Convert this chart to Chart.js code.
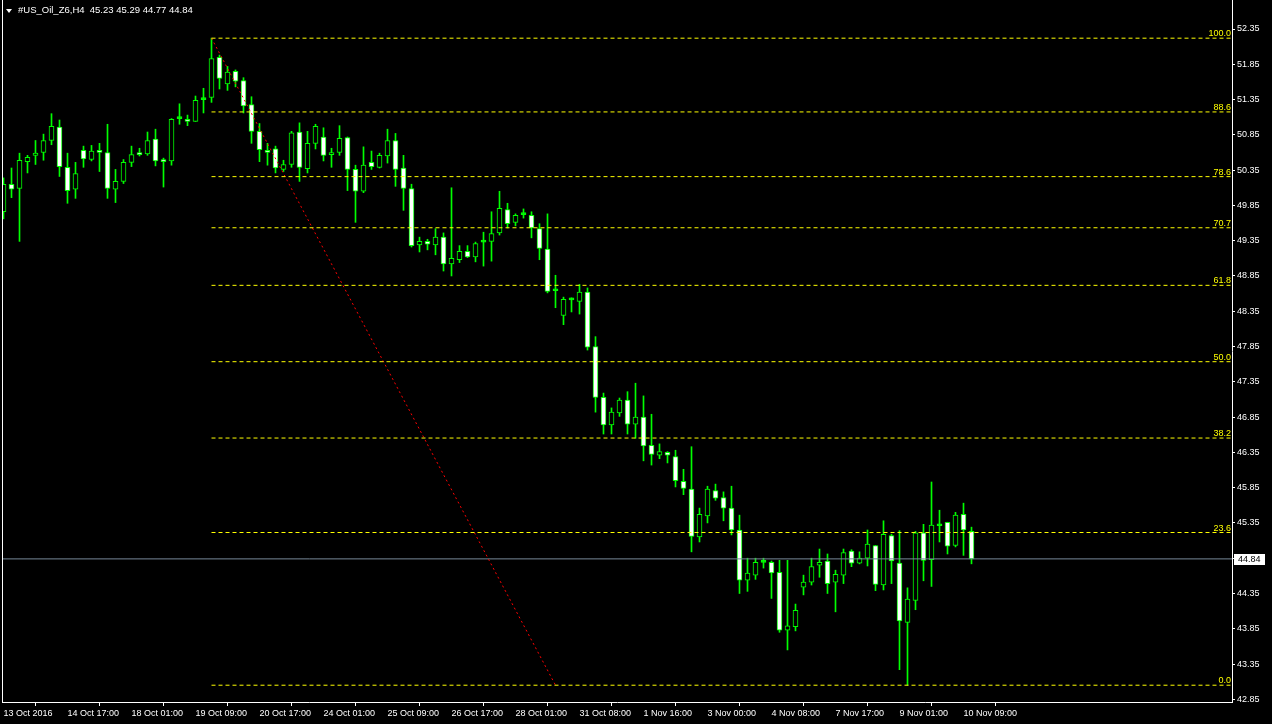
<!DOCTYPE html>
<html><head><meta charset="utf-8">
<script src="https://cdn.jsdelivr.net/npm/chart.js@4.4.1/dist/chart.umd.min.js"></script>
<style>
html,body{margin:0;padding:0;background:#000;}
#wrap{position:relative;width:1272px;height:724px;overflow:hidden;}
#hdr{position:absolute;left:18px;top:4px;color:#fff;font:9.5px "Liberation Sans",Arial,sans-serif;white-space:pre;line-height:11px;}
#tri{position:absolute;left:6px;top:9px;width:0;height:0;border-left:3px solid transparent;border-right:3px solid transparent;border-top:4px solid #fff;}
</style></head><body>
<div id="wrap"><canvas id="c" width="1272" height="724"></canvas><div id="tri"></div><div id="hdr">#US_Oil_Z6,H4  45.23 45.29 44.77 44.84</div></div>
<script>
// H4 bars, index 0 = 13 Oct 2016 09:00
const openVals = [49.76,50.15,50.09,50.47,50.56,50.60,50.77,50.96,50.39,50.08,50.63,50.50,50.63,50.60,50.08,50.19,50.46,50.59,50.58,50.79,50.49,50.48,51.08,51.07,51.04,51.36,
51.38,51.95,51.57,51.75,51.62,51.28,50.90,50.63,50.65,50.36,50.43,50.89,50.37,50.73,50.82,50.57,50.60,50.81,50.36,50.05,50.46,50.39,50.55,50.77,50.38,
50.09,49.29,49.34,49.29,49.40,49.02,49.08,49.20,49.12,49.33,49.34,49.46,49.79,49.61,49.72,49.71,49.52,49.23,48.64,48.29,48.51,48.49,48.62,47.85,47.13,
46.74,46.91,47.09,46.75,46.85,46.45,46.31,46.35,46.29,45.94,45.83,45.15,45.45,45.81,45.71,45.56,45.25,44.54,44.61,44.79,44.79,44.65,43.83,43.88,44.44,
44.51,44.75,44.81,44.51,44.61,44.95,44.78,44.85,45.03,44.47,45.17,44.78,43.94,44.25,45.21,44.83,45.31,45.36,45.03,45.47,45.23];
const highVals = [50.24,50.38,50.59,50.56,50.77,50.86,51.15,51.06,50.59,50.46,50.69,50.70,50.73,51.00,50.36,50.50,50.69,50.66,50.89,50.93,50.52,51.08,51.29,51.13,51.40,51.51,
52.22,51.98,51.82,51.77,51.66,51.39,51.01,50.73,50.69,50.49,50.90,51.02,50.90,51.00,50.95,50.66,50.98,50.82,50.42,50.68,50.62,50.59,50.93,50.87,50.56,
50.15,49.40,49.37,49.52,49.46,50.10,49.28,49.28,49.33,49.47,49.76,50.05,49.88,49.73,49.80,49.76,49.59,49.73,48.86,48.55,48.54,48.73,48.68,47.99,47.19,
46.98,47.12,47.21,47.33,47.15,46.89,46.47,46.36,46.38,46.11,46.43,45.56,45.87,45.90,45.79,45.87,45.46,44.85,44.85,44.85,44.81,44.82,44.82,44.20,44.61,
44.85,44.98,44.91,44.68,44.98,44.97,44.94,45.25,45.03,45.38,45.19,45.24,44.43,45.23,45.33,45.93,45.53,45.36,45.50,45.63,45.29];
const lowVals = [49.66,49.96,49.34,50.31,50.43,50.49,50.71,50.26,49.88,49.95,50.39,50.48,50.33,49.95,49.89,50.16,50.40,50.55,50.56,50.41,50.11,50.42,51.00,50.98,51.04,51.16,
51.31,51.50,51.48,51.53,51.16,50.73,50.47,50.42,50.31,50.33,50.39,50.19,50.31,50.65,50.48,50.39,50.56,50.06,49.61,50.03,50.36,50.38,50.45,50.12,49.78,
49.26,49.19,49.22,49.15,48.92,48.85,49.04,49.11,49.05,48.99,49.06,49.43,49.53,49.56,49.67,49.39,49.08,48.61,48.40,48.16,48.34,48.31,47.80,46.92,46.61,
46.61,46.86,46.61,46.55,46.23,46.17,46.26,46.20,45.86,45.75,44.94,45.08,45.35,45.67,45.38,45.18,44.35,44.38,44.55,44.71,44.28,43.80,43.55,43.82,44.33,
44.47,44.58,44.35,44.09,44.49,44.73,44.77,44.74,44.39,44.40,44.49,43.27,43.05,44.12,44.53,44.45,45.08,44.91,45.01,44.89,44.77];
const closeVals = [50.15,50.08,50.49,50.53,50.59,50.77,50.97,50.40,50.06,50.30,50.51,50.62,50.60,50.09,50.19,50.46,50.57,50.57,50.77,50.48,50.47,51.07,51.09,51.04,51.34,51.35,
51.93,51.65,51.74,51.61,51.26,50.90,50.64,50.60,50.38,50.43,50.88,50.39,50.73,50.97,50.56,50.60,50.80,50.36,50.05,50.42,50.40,50.56,50.77,50.36,50.09,
49.28,49.34,49.30,49.40,49.02,49.10,49.20,49.12,49.31,49.33,49.45,49.81,49.59,49.71,49.72,49.53,49.24,48.63,48.64,48.52,48.51,48.62,47.84,47.13,46.74,
46.92,47.09,46.75,46.85,46.44,46.32,46.36,46.31,45.95,45.84,45.16,45.47,45.83,45.70,45.56,45.25,44.54,44.64,44.79,44.79,44.64,43.83,43.89,44.11,44.51,
44.73,44.79,44.49,44.62,44.93,44.78,44.85,45.05,44.48,45.19,44.81,43.96,44.27,45.21,44.82,45.32,45.31,45.02,45.46,45.25,44.84];

const tickBars = [0,8,16,24,32,40,48,56,64,72,80,88,96,104,112,120];
const tickLabels = ['13 Oct 2016','14 Oct 17:00','18 Oct 01:00','19 Oct 09:00','20 Oct 17:00','24 Oct 01:00','25 Oct 09:00','26 Oct 17:00','28 Oct 01:00','31 Oct 08:00','1 Nov 16:00','3 Nov 00:00','4 Nov 08:00','7 Nov 17:00','9 Nov 01:00','10 Nov 09:00'];
const priceTicks = [42.85,43.35,43.85,44.35,44.85,45.35,45.85,46.35,46.85,47.35,47.85,48.35,48.85,49.35,49.85,50.35,50.85,51.35,51.85,52.35];

const fibLevels = [0.0,23.6,38.2,50.0,61.8,70.7,78.6,88.6,100.0];
const fibStartBar = 26, fibStartPrice = 52.22;
const fibEndBar = 69, fibEndPrice = 43.05;

const X_MIN = -0.1875, X_MAX = 153.5625;
const Y_MIN = 42.812, Y_MAX = 52.761;

const fibPrice = l => fibEndPrice + (fibStartPrice - fibEndPrice) * l / 100;
const lastClose = closeVals[closeVals.length - 1];

const GREEN = '#00ff00';
const wickData = highVals.map((h, i) => ({x: i, y: [lowVals[i], h]}));
const bodyData = openVals.map((o, i) => ({x: i, y: [o, closeVals[i]]}));
const bodyFill = openVals.map((o, i) => {
  const c = closeVals[i];
  if (Math.abs(c - o) < 0.015) return GREEN;
  return c < o ? '#ffffff' : '#000000';
});

const lineDs = (data, color, dash) => ({
  type: 'line', data, borderColor: color, borderWidth: 1, borderDash: dash,
  pointRadius: 0, tension: 0, fill: false
});

const datasets = [];
fibLevels.forEach(l => {
  const p = fibPrice(l);
  datasets.push(lineDs([{x: fibStartBar, y: p}, {x: X_MAX, y: p}], '#ffff00', [4, 3]));
});
datasets.push(lineDs([{x: fibStartBar, y: fibStartPrice}, {x: fibEndBar, y: fibEndPrice}], '#ff0000', [2, 3]));
datasets.push(lineDs([{x: X_MIN, y: lastClose}, {x: X_MAX, y: lastClose}], '#778899', []));
datasets.push({type: 'bar', data: bodyData, backgroundColor: bodyFill, borderColor: GREEN, borderWidth: 1,
  borderSkipped: false, barThickness: 5, grouped: false, minBarLength: 2});
datasets.push({type: 'bar', data: wickData, backgroundColor: GREEN, borderWidth: 0,
  barThickness: 1, grouped: false});

const FONT = {family: '"Liberation Sans", Arial, sans-serif', size: 9};

const overlay = {
  id: 'overlay',
  afterDatasetsDraw(chart) {
    const {ctx, chartArea: a, scales: {y}} = chart;
    ctx.save();
    ctx.font = '9px "Liberation Sans", Arial, sans-serif';
    ctx.fillStyle = '#ffff00';
    ctx.textAlign = 'right';
    ctx.textBaseline = 'alphabetic';
    fibLevels.forEach(l => {
      const py = y.getPixelForValue(fibPrice(l));
      ctx.fillText(l.toFixed(1), a.right - 1, py - 2);
    });
    ctx.restore();
  },
  afterDraw(chart) {
    const {ctx, chartArea: a, scales: {y}} = chart;
    ctx.save();
    ctx.strokeStyle = '#ffffff';
    ctx.lineWidth = 1;
    ctx.beginPath();
    ctx.moveTo(a.left + 0.5, 0);
    ctx.lineTo(a.left + 0.5, a.bottom);
    ctx.stroke();
    const py = y.getPixelForValue(lastClose);
    ctx.fillStyle = '#ffffff';
    ctx.fillRect(a.right + 2, Math.round(py) - 5, 31, 11);
    ctx.fillStyle = '#000000';
    ctx.font = '9px "Liberation Sans", Arial, sans-serif';
    ctx.textAlign = 'left';
    ctx.textBaseline = 'middle';
    ctx.fillText(lastClose.toFixed(2), a.right + 6, Math.round(py) + 0.5);
    ctx.restore();
  }
};

new Chart(document.getElementById('c'), {
  type: 'bar',
  data: {datasets},
  plugins: [overlay],
  options: {
    responsive: false,
    devicePixelRatio: 1,
    animation: false,
    layout: {padding: {left: 2, top: 0, right: 0, bottom: 0}},
    plugins: {legend: {display: false}, tooltip: {enabled: false}},
    scales: {
      x: {
        type: 'linear', min: X_MIN, max: X_MAX, offset: false, bounds: 'data',
        afterBuildTicks: s => { s.ticks = tickBars.map(v => ({value: v})); },
        afterFit: s => { s.height = 22; s.paddingLeft = 0; s.paddingRight = 0; },
        ticks: {
          autoSkip: false, maxRotation: 0, minRotation: 0, align: 'start', color: '#ffffff',
          font: FONT, padding: 2,
          callback: v => { const k = tickBars.indexOf(v); return k >= 0 ? tickLabels[k] : ''; }
        },
        grid: {display: true, drawOnChartArea: false, drawTicks: true, tickLength: 4, color: '#ffffff'},
        border: {display: true, color: '#ffffff'}
      },
      y: {
        type: 'linear', position: 'right', min: Y_MIN, max: Y_MAX, bounds: 'data',
        afterBuildTicks: s => { s.ticks = priceTicks.map(v => ({value: v})); },
        afterFit: s => { s.width = 40; s.paddingTop = 0; s.paddingBottom = 0; },
        ticks: {color: '#ffffff', font: FONT, padding: 2, callback: v => Number(v).toFixed(2)},
        grid: {display: true, drawOnChartArea: false, drawTicks: true, tickLength: 3, color: '#ffffff'},
        border: {display: true, color: '#ffffff'}
      }
    }
  }
});
</script>
</body></html>
